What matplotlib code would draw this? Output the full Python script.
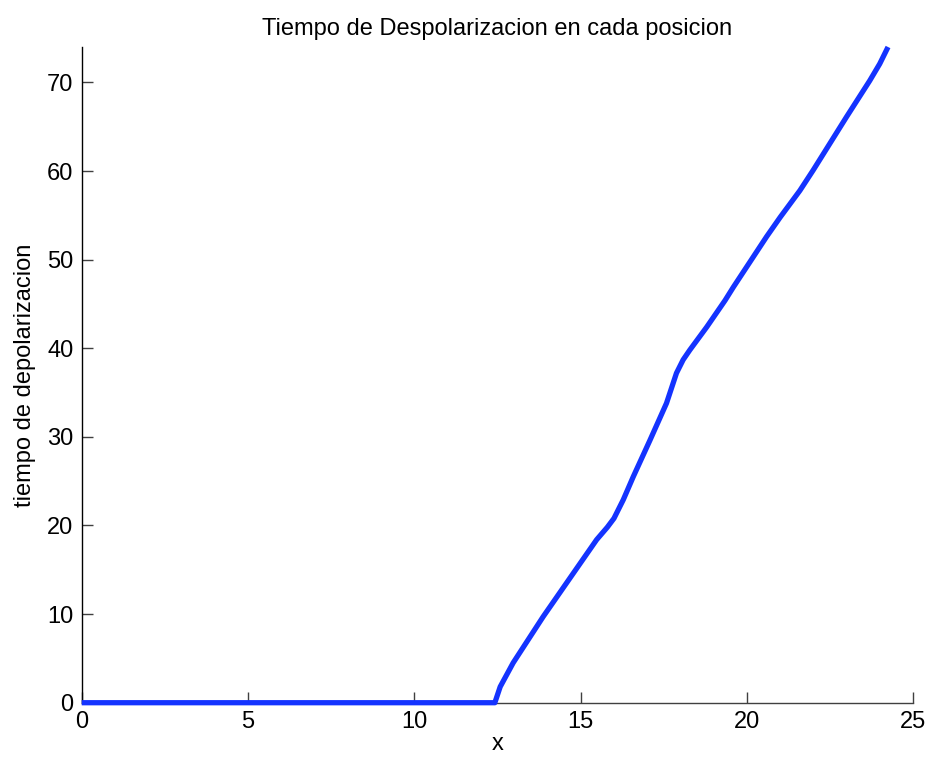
import matplotlib
matplotlib.use("Agg")
import matplotlib.pyplot as plt
import numpy as np

# position along the fibre and depolarization time read at each position
x_pos = [0.0, 12.42, 12.58, 12.97, 13.87, 14.98, 15.48, 15.80, 16.00, 16.28,
         16.58, 17.08, 17.58, 17.88, 18.08, 18.28, 18.79, 19.34, 19.59,
         20.59, 21.00, 21.59, 21.99, 22.99, 23.69, 23.99, 24.24]
t_depol = [0.0, 0.0, 1.8, 4.5, 9.7, 15.7, 18.4, 19.8, 20.8, 22.9,
           25.5, 29.6, 33.8, 37.2, 38.7, 39.8, 42.4, 45.4, 46.9,
           52.6, 54.8, 57.8, 60.1, 66.1, 70.2, 72.1, 74.0]

x_ticks = [0, 5, 10, 15, 20, 25]
y_ticks = [0, 10, 20, 30, 40, 50, 60, 70]

plt.rcParams["font.family"] = ["Liberation Sans", "DejaVu Sans"]

fig = plt.figure(figsize=(9.33, 7.68), dpi=100, facecolor="white")
ax = fig.add_axes([0.0876, 0.085, 0.8913, 0.8538])

ax.plot(x_pos, t_depol, color="#1433ff", lw=3.8, clip_on=False,
        solid_capstyle="butt", zorder=3)

ax.set_xlim(0, 25)
ax.set_ylim(0, max(t_depol))
ax.set_xticks(x_ticks)
ax.set_yticks(y_ticks)

for side in ("top", "right"):
    ax.spines[side].set_visible(False)
ax.spines["left"].set_color("black")
ax.spines["bottom"].set_color("#404040")
for spine in ax.spines.values():
    spine.set_linewidth(1.0)

ax.tick_params(direction="in", length=8, width=1, color="#404040",
               labelsize=17, pad=6)

ax.set_title("Tiempo de Despolarizacion en cada posicion", fontsize=17, pad=9)
ax.set_xlabel("x", fontsize=17, labelpad=0)
ax.set_ylabel("tiempo de depolarizacion", fontsize=17, labelpad=8)

fig.savefig("out.png", dpi=100, facecolor=fig.get_facecolor())
